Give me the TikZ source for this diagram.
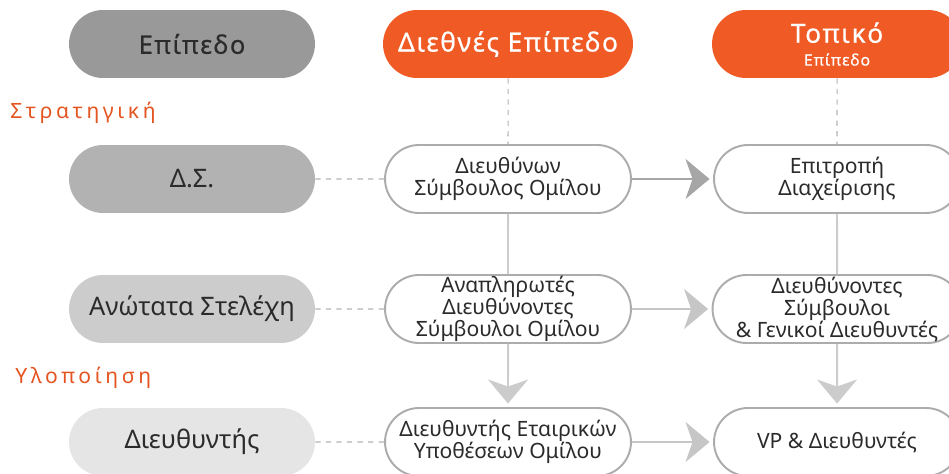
\documentclass[tikz,border=0pt]{standalone}
\usepackage{fontspec}
\setmainfont{Noto Sans}
\usetikzlibrary{arrows.meta}
\usetikzlibrary{shapes.misc}
\definecolor{orng}{HTML}{F05A24}
\definecolor{ink}{HTML}{2B2B2B}
\tikzset{lvl/.style = {rounded rectangle, minimum width=4.92cm, minimum height=1.36cm,
                       inner sep=0, align=center, text=ink}}
\tikzset{side/.style = {lvl, font=\fontsize{14.5}{17}\selectfont}}
\tikzset{head/.style = {lvl, fill=orng, text=white, minimum width=5cm,
                        font=\fontsize{15}{16}\selectfont\addfontfeature{FakeBold=0.6,LetterSpace=6}}}
\tikzset{role/.style = {lvl, draw=gray!65, line width=1.1pt, fill=white,
                        font=\fontsize{12}{12.5}\selectfont}}
\tikzset{phase/.style = {anchor=west, text=orng!95!black, inner sep=0,
                         font=\fontsize{12}{14}\selectfont\addfontfeature{LetterSpace=17}}}
\tikzset{link/.style = {dashed, gray!60, line width=0.6pt}}
\tikzset{flow/.style = {-{Stealth[length=0.48cm, width=0.8cm, inset=0.14cm]},
                        shorten >=2pt, line width=1.1pt, gray!45}}

\begin{document}
\begin{tikzpicture}[x=0.02cm, y=-0.02cm]
  \useasboundingbox (0, 0) rectangle (949, 473);

  % headers
  \node [side, fill=black!40, font=\fontsize{14.5}{17}\selectfont\addfontfeature{FakeBold=0.6,LetterSpace=6}] (lvl) at (192, 44) {Επίπεδο};
  \node [head] (intl) at (508, 44) {Διεθνές Επίπεδο};
  \node [head] (local) at (837, 44) {Τοπικό\\[-3pt]{\fontsize{9}{10}\selectfont Επίπεδο}};

  \node [phase] (strat) at (10, 113) {Στρατηγική};
  \node [phase] (impl) at (15, 378) {Υλοποίηση};

  % left column
  \node [side, fill=black!30] (board) at (192, 179) {Δ.Σ.};
  \node [side, fill=black!20] (senior) at (192, 309) {Ανώτατα Στελέχη};
  \node [side, fill=black!10] (mgr) at (192, 442) {Διευθυντής};

  % group level
  \node [role] (ceo) at (508, 179) {Διευθύνων\\Σύμβουλος Ομίλου};
  \node [role] (deputy) at (508, 309) {Αναπληρωτές\\Διευθύνοντες\\Σύμβουλοι Ομίλου};
  \node [role] (corp) at (508, 442) {Διευθυντής Εταιρικών\\Υποθέσεων Ομίλου};

  % local level
  \node [role] (cmte) at (837, 179) {Επιτροπή\\Διαχείρισης};
  \node [role] (md) at (837, 309) {Διευθύνοντες\\Σύμβουλοι\\\& Γενικοί Διευθυντές};
  \node [role] (vp) at (837, 442) {VP \& Διευθυντές};

  \draw [link] (board) -- (ceo);
  \draw [link] (senior) -- (deputy);
  \draw [link] (mgr) -- (corp);
  \draw [link] (intl) -- (ceo);
  \draw [link] (local) -- (cmte);

  \draw [flow, gray!70] (ceo) -- (cmte);
  \draw [flow] (deputy) -- (md);
  \draw [flow] (corp) -- (vp);

  \draw [line width=1.1pt, gray!40] (ceo) -- (deputy);
  \draw [line width=1.1pt, gray!40] (cmte) -- (md);
  \draw [flow, gray!40] (deputy) -- (corp);
  \draw [flow, gray!40] (md) -- (vp);
\end{tikzpicture}
\end{document}
